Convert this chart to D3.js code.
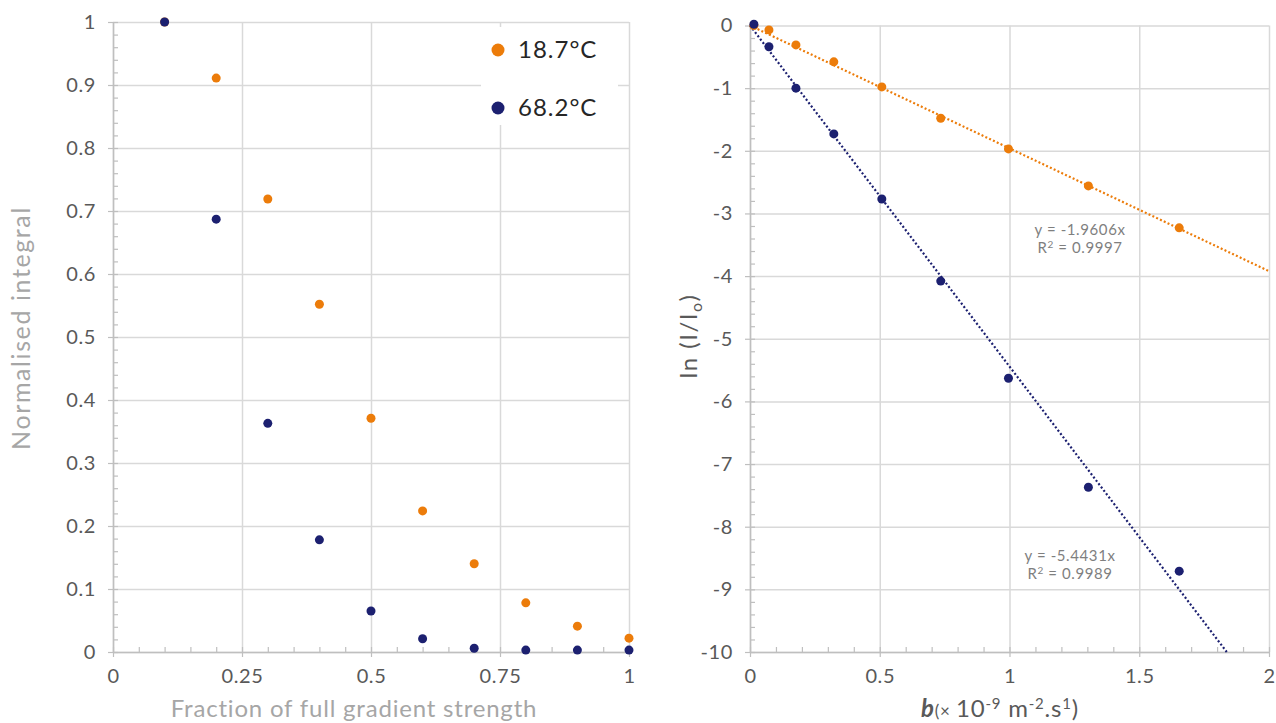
<!DOCTYPE html>
<html>
<head>
<meta charset="utf-8">
<script src="https://cdn.jsdelivr.net/npm/d3@7"></script>
<style>
  body { margin: 0; background: #fff; }
  svg text { font-family: Lato, "Noto Sans", sans-serif; }
  .domain { stroke: #bfbfbf; stroke-width: 1.5; }
  .tick line { stroke: #bfbfbf; stroke-width: 1.2; }
  .grid .tick line { stroke: #d9d9d9; stroke-width: 1.5; }
  .grid .domain { display: none; }
  .ticklab text { fill: #595959; font-size: 20px; letter-spacing: 0.6px; }
</style>
</head>
<body>
<div id="chart"></div>
<script>
// left chart: fraction vs normalised integral
var fraction = [0.1, 0.2, 0.3, 0.4, 0.5, 0.6, 0.7, 0.8, 0.9, 1.0];
var norm187 = [1.0, 0.911, 0.719, 0.552, 0.371, 0.224, 0.140, 0.078, 0.041, 0.022];
var norm682 = [1.0, 0.687, 0.363, 0.178, 0.065, 0.021, 0.006, 0.003, 0.003, 0.003];

// right chart: b vs ln(I/Io)
var bVals = [0.015, 0.073, 0.177, 0.323, 0.508, 0.735, 0.996, 1.304, 1.654];
var ln187 = [0, -0.07, -0.31, -0.58, -0.98, -1.48, -1.97, -2.56, -3.23];
var ln682 = [0.02, -0.34, -1.0, -1.73, -2.77, -4.08, -5.63, -7.37, -8.71];

var slope187 = -1.9606, r2_187 = "0.9997";
var slope682 = -5.4431, r2_682 = "0.9989";

var legendLabels = ["18.7°C", "68.2°C"];
var colors = ["#ec7c0a", "#1c2070"];

var svg = d3.select("#chart").append("svg").attr("width", 1276).attr("height", 723);

// helper that draws grid + axes
function drawAxes(g, x, y, w, h, xTicks, yTicks, xMinor, yMinor, xFmt, yFmt) {
    g.append("g").attr("class", "grid")
        .attr("transform", `translate(0,${h})`)
        .call(d3.axisBottom(x).tickValues(xTicks).tickSize(-h).tickFormat(""));
    g.append("g").attr("class", "grid")
        .call(d3.axisLeft(y).tickValues(yTicks).tickSize(-w).tickFormat(""));

    // minor ticks inside
    g.append("g").attr("transform", `translate(0,${h})`)
        .call(d3.axisTop(x).tickValues(xMinor).tickSize(5).tickFormat(""))
        .select(".domain").remove();
    g.append("g")
        .call(d3.axisRight(y).tickValues(yMinor).tickSize(5).tickFormat(""))
        .select(".domain").remove();

    // main axes with labels
    g.append("g").attr("class", "ticklab")
        .attr("transform", `translate(0,${h})`)
        .call(d3.axisBottom(x).tickValues(xTicks).tickSize(5).tickSizeOuter(0).tickPadding(12).tickFormat(xFmt));
    g.append("g").attr("class", "ticklab")
        .call(d3.axisLeft(y).tickValues(yTicks).tickSize(5).tickSizeOuter(0).tickPadding(12).tickFormat(yFmt));
}

// ---------- left chart ----------
var L = { left: 113, top: 22, w: 516, h: 630 };
var gL = svg.append("g").attr("transform", `translate(${L.left},${L.top})`);
var xL = d3.scaleLinear().domain([0, 1]).range([0, L.w]);
var yL = d3.scaleLinear().domain([0, 1]).range([L.h, 0]);

drawAxes(gL, xL, yL, L.w, L.h,
    [0, 0.25, 0.5, 0.75, 1], d3.range(0, 1.01, 0.1),
    d3.range(0, 1.001, 0.05), d3.range(0, 1.001, 0.02),
    d => String(+d.toFixed(2)), d => String(+d.toFixed(1)));

// legend box (white, hides gridlines)
gL.append("rect").attr("x", 368).attr("y", 5).attr("width", 137).attr("height", 98).attr("fill", "#fff");
legendLabels.forEach(function(t, i) {
    var ly = 28 + i * 58;
    gL.append("circle").attr("cx", 385).attr("cy", ly).attr("r", 6.5).attr("fill", colors[i]);
    gL.append("text").attr("x", 405).attr("y", ly + 8).attr("fill", "#262626")
        .style("font-size", "24px").style("letter-spacing", "1px").text(t);
});

[norm187, norm682].forEach(function(series, i) {
    gL.selectAll(null).data(series).enter().append("circle")
        .attr("cx", (d, j) => xL(fraction[j]))
        .attr("cy", d => yL(d))
        .attr("r", 4.5)
        .attr("fill", colors[i]);
});

svg.append("text").attr("x", 354).attr("y", 717).attr("text-anchor", "middle")
    .attr("fill", "#a6a6a6").style("font-size", "24px").style("letter-spacing", "0.8px")
    .text("Fraction of full gradient strength");
svg.append("text").attr("transform", "translate(30,328) rotate(-90)").attr("text-anchor", "middle")
    .attr("fill", "#a6a6a6").style("font-size", "25px").style("letter-spacing", "1.6px")
    .text("Normalised integral");

// ---------- right chart ----------
var R = { left: 750, top: 25.5, w: 519, h: 626.5 };
var gR = svg.append("g").attr("transform", `translate(${R.left},${R.top})`);
var xR = d3.scaleLinear().domain([0, 2]).range([0, R.w]);
var yR = d3.scaleLinear().domain([-10, 0]).range([R.h, 0]);

drawAxes(gR, xR, yR, R.w, R.h,
    [0, 0.5, 1, 1.5, 2], d3.range(-10, 0.5, 1),
    d3.range(0, 2.001, 0.1), d3.range(-10, 0.001, 0.2),
    d => String(+d.toFixed(1)), d => String(Math.round(d)));

// trendlines (dotted)
[[slope187, colors[0]], [slope682, colors[1]]].forEach(function(t) {
    var xEnd = Math.min(2, -10 / t[0]);
    gR.append("line")
        .attr("x1", xR(0)).attr("y1", yR(0))
        .attr("x2", xR(xEnd)).attr("y2", yR(t[0] * xEnd))
        .attr("stroke", t[1]).attr("stroke-width", 2.2)
        .attr("stroke-dasharray", "2,2.2");
});

[ln187, ln682].forEach(function(series, i) {
    gR.selectAll(null).data(series).enter().append("circle")
        .attr("cx", (d, j) => xR(bVals[j]))
        .attr("cy", d => yR(d))
        .attr("r", 4.5)
        .attr("fill", colors[i]);
});

// equation labels
function eqLabel(cx, y1, slope, r2) {
    var t = svg.append("text").attr("text-anchor", "middle").attr("fill", "#7f7f7f")
        .style("font-size", "15px").style("letter-spacing", "0.6px");
    t.append("tspan").attr("x", cx).attr("y", y1).text("y = " + slope + "x");
    var t2 = t.append("tspan").attr("x", cx).attr("y", y1 + 18).text("R");
    t2.append("tspan").attr("dy", -5).style("font-size", "10px").text("2");
    t.append("tspan").attr("dy", 5).text(" = " + r2);
}
eqLabel(1080, 235, slope187.toFixed(4), r2_187);
eqLabel(1070, 561, slope682.toFixed(4), r2_682);

// right axis titles
var yt = svg.append("text").attr("transform", "translate(697,336) rotate(-90)").attr("text-anchor", "middle")
    .attr("fill", "#595959").style("font-size", "24px").style("letter-spacing", "1.5px");
yt.append("tspan").text("ln (I/I");
yt.append("tspan").attr("dy", 5).style("font-size", "16px").text("o");
yt.append("tspan").attr("dy", -5).text(")");

var xt = svg.append("text").attr("x", 1000).attr("y", 717).attr("text-anchor", "middle")
    .attr("fill", "#595959").style("font-size", "24px").style("letter-spacing", "0.8px");
xt.append("tspan").style("font-style", "italic").style("font-weight", "bold").text("b");
xt.append("tspan").style("font-size", "17px").text("(× ");
xt.append("tspan").text("10");
xt.append("tspan").attr("dy", -8).style("font-size", "15px").text("-9");
xt.append("tspan").attr("dy", 8).text(" m");
xt.append("tspan").attr("dy", -8).style("font-size", "15px").text("-2");
xt.append("tspan").attr("dy", 8).text(".s");
xt.append("tspan").attr("dy", -8).style("font-size", "15px").text("1");
xt.append("tspan").attr("dy", 8).text(")");
</script>
</body>
</html>
